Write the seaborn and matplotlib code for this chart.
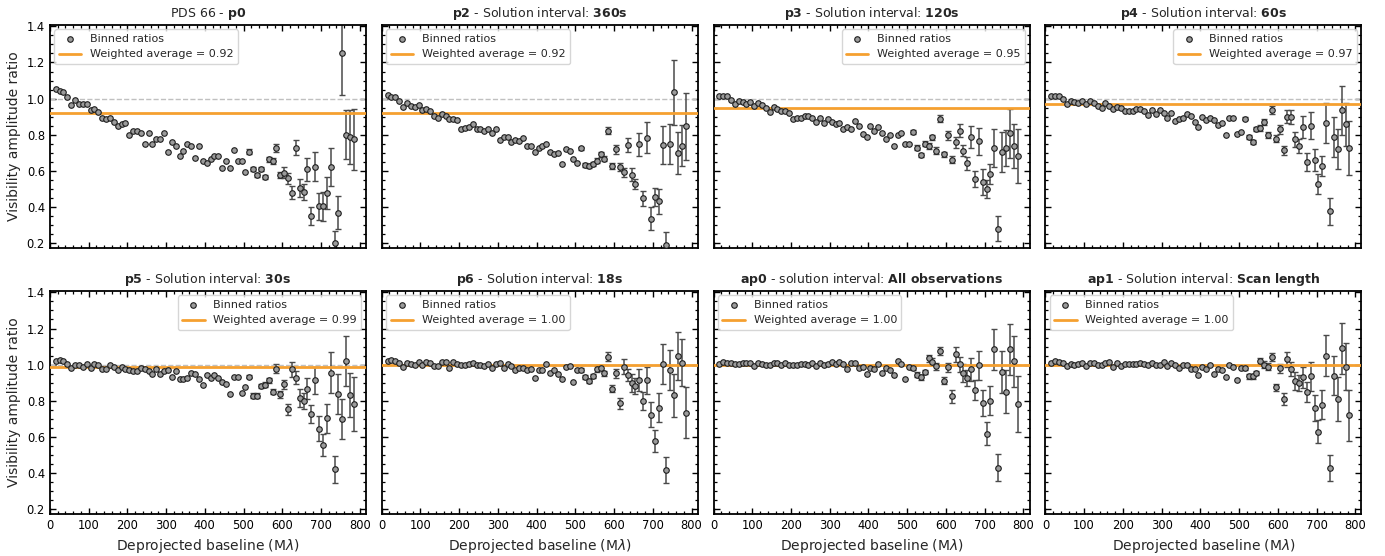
import numpy as np
import matplotlib
matplotlib.use("Agg")
import matplotlib.pyplot as plt
from matplotlib.ticker import MultipleLocator
import seaborn as sns

# ---------------- data ----------------
baseline = [15, 25, 35, 45, 55, 65, 75, 85, 95, 105,
            115, 125, 135, 145, 155, 165, 175, 185, 195, 205,
            215, 225, 235, 245, 255, 265, 275, 285, 295, 305,
            315, 325, 335, 345, 355, 365, 375, 385, 395, 405,
            415, 425, 435, 445, 455, 465, 475, 485, 495, 505,
            515, 525, 535, 545, 555, 565, 575, 585, 595, 605,
            615, 625, 635, 645, 655, 665, 675, 685, 695, 705,
            715, 725, 735, 745, 755, 765, 775, 785]

ratio_p0 = [1.052, 1.043, 1.035, 1.007, 0.967, 0.995, 0.969, 0.969, 0.972, 0.935,
            0.945, 0.924, 0.895, 0.885, 0.895, 0.869, 0.848, 0.861, 0.865, 0.800,
            0.819, 0.824, 0.808, 0.749, 0.813, 0.747, 0.778, 0.778, 0.813, 0.708,
            0.758, 0.736, 0.686, 0.713, 0.747, 0.736, 0.675, 0.740, 0.656, 0.643,
            0.667, 0.686, 0.686, 0.616, 0.658, 0.617, 0.715, 0.658, 0.658, 0.593,
            0.708, 0.612, 0.579, 0.612, 0.569, 0.664, 0.656, 0.726, 0.579, 0.590,
            0.560, 0.480, 0.730, 0.505, 0.485, 0.610, 0.350, 0.625, 0.405, 0.405,
            0.480, 0.625, 0.200, 0.370, 1.250, 0.800, 0.790, 0.775]
ratio_p2 = [1.018, 1.011, 1.009, 0.989, 0.954, 0.978, 0.961, 0.954, 0.963, 0.935,
            0.945, 0.932, 0.906, 0.893, 0.915, 0.902, 0.889, 0.887, 0.884, 0.835,
            0.839, 0.841, 0.860, 0.834, 0.830, 0.824, 0.835, 0.810, 0.830, 0.773,
            0.787, 0.791, 0.758, 0.773, 0.765, 0.782, 0.741, 0.741, 0.706, 0.730,
            0.738, 0.747, 0.708, 0.695, 0.701, 0.641, 0.723, 0.713, 0.665, 0.647,
            0.725, 0.632, 0.628, 0.640, 0.658, 0.693, 0.669, 0.823, 0.627, 0.721,
            0.623, 0.593, 0.743, 0.580, 0.529, 0.747, 0.449, 0.784, 0.338, 0.455,
            0.433, 0.743, 0.192, 0.750, 1.035, 0.699, 0.741, 0.848]
ratio_p3 = [1.017, 1.017, 1.013, 0.994, 0.969, 0.987, 0.980, 0.970, 0.983, 0.961,
            0.978, 0.963, 0.946, 0.928, 0.956, 0.941, 0.930, 0.933, 0.922, 0.887,
            0.893, 0.895, 0.906, 0.904, 0.891, 0.872, 0.893, 0.863, 0.887, 0.872,
            0.858, 0.865, 0.834, 0.841, 0.830, 0.876, 0.850, 0.806, 0.786, 0.848,
            0.821, 0.845, 0.810, 0.780, 0.802, 0.741, 0.800, 0.811, 0.750, 0.750,
            0.815, 0.730, 0.689, 0.752, 0.739, 0.786, 0.713, 0.889, 0.693, 0.797,
            0.662, 0.758, 0.824, 0.712, 0.643, 0.789, 0.555, 0.765, 0.540, 0.499,
            0.582, 0.730, 0.281, 0.706, 0.726, 0.810, 0.738, 0.684]
ratio_p4 = [1.013, 1.015, 1.013, 0.998, 0.972, 0.987, 0.983, 0.976, 0.989, 0.971,
            0.985, 0.976, 0.958, 0.948, 0.974, 0.958, 0.945, 0.956, 0.947, 0.930,
            0.932, 0.930, 0.945, 0.943, 0.934, 0.908, 0.936, 0.913, 0.936, 0.923,
            0.893, 0.921, 0.875, 0.890, 0.893, 0.913, 0.904, 0.873, 0.845, 0.901,
            0.880, 0.895, 0.882, 0.853, 0.866, 0.797, 0.891, 0.891, 0.807, 0.818,
            0.890, 0.790, 0.761, 0.831, 0.838, 0.871, 0.800, 0.935, 0.780, 0.830,
            0.715, 0.900, 0.900, 0.775, 0.740, 0.845, 0.650, 0.850, 0.660, 0.530,
            0.626, 0.865, 0.378, 0.790, 0.720, 0.937, 0.858, 0.729]
ratio_p5 = [1.018, 1.024, 1.020, 1.002, 0.980, 0.996, 0.996, 0.987, 1.002, 0.983,
            1.002, 0.998, 0.978, 0.974, 0.996, 0.987, 0.969, 0.987, 0.974, 0.971,
            0.963, 0.963, 0.980, 0.974, 0.967, 0.947, 0.974, 0.947, 0.965, 0.971,
            0.930, 0.963, 0.919, 0.923, 0.925, 0.954, 0.947, 0.919, 0.886, 0.941,
            0.925, 0.943, 0.925, 0.906, 0.892, 0.836, 0.930, 0.930, 0.842, 0.879,
            0.934, 0.829, 0.829, 0.881, 0.890, 0.914, 0.851, 0.978, 0.836, 0.892,
            0.754, 0.974, 0.928, 0.816, 0.800, 0.868, 0.730, 0.915, 0.647, 0.557,
            0.704, 0.956, 0.421, 0.840, 0.699, 1.020, 0.833, 0.781]
ratio_p6 = [1.020, 1.028, 1.022, 1.011, 0.989, 1.007, 1.004, 1.000, 1.015, 0.996,
            1.013, 1.011, 0.993, 0.994, 1.017, 1.013, 0.982, 1.015, 1.004, 1.000,
            0.996, 1.004, 1.009, 0.996, 0.998, 0.991, 1.002, 0.983, 1.002, 1.011,
            0.983, 1.002, 0.991, 0.971, 0.983, 0.982, 0.971, 0.976, 0.926, 0.972,
            0.972, 1.002, 0.952, 0.969, 0.947, 0.923, 0.987, 0.994, 0.906, 0.972,
            0.972, 0.932, 0.910, 0.938, 0.976, 0.983, 0.952, 1.044, 0.868, 0.954,
            0.787, 0.989, 0.943, 0.901, 0.881, 0.915, 0.801, 0.915, 0.724, 0.577,
            0.761, 1.006, 0.419, 0.969, 0.831, 1.048, 1.011, 0.735]
ratio_ap0 = [1.006, 1.017, 1.009, 1.009, 1.004, 1.002, 1.007, 1.009, 1.009, 0.994,
             1.011, 1.004, 0.998, 0.998, 1.009, 1.011, 1.000, 1.009, 0.996, 0.998,
             0.998, 1.006, 1.004, 1.000, 1.007, 0.991, 1.007, 0.996, 1.004, 1.015,
             1.004, 1.013, 1.002, 0.978, 1.009, 1.011, 0.980, 0.985, 0.947, 0.982,
             0.974, 1.002, 0.956, 0.983, 0.969, 0.941, 1.018, 1.006, 0.919, 0.987,
             0.980, 0.945, 0.930, 0.960, 1.035, 1.017, 0.991, 1.075, 0.912, 0.987,
             0.825, 1.057, 1.002, 0.954, 0.926, 0.974, 0.860, 0.996, 0.789, 0.619,
             0.801, 1.085, 0.432, 0.960, 0.851, 1.085, 1.018, 0.781]
ratio_ap1 = [1.011, 1.022, 1.015, 1.011, 0.994, 1.002, 1.000, 1.002, 1.009, 0.993,
             1.007, 1.007, 0.996, 0.996, 1.007, 1.013, 0.987, 1.009, 0.994, 1.002,
             1.002, 1.002, 1.006, 1.011, 1.002, 1.000, 1.007, 0.998, 0.996, 1.015,
             0.993, 1.009, 0.996, 0.983, 0.996, 0.996, 0.974, 0.978, 0.945, 0.985,
             0.975, 1.000, 0.950, 0.975, 0.970, 0.930, 1.000, 0.990, 0.915, 0.980,
             0.980, 0.935, 0.935, 0.955, 1.020, 1.000, 0.990, 1.043, 0.875, 0.980,
             0.810, 1.030, 0.975, 0.910, 0.900, 0.930, 0.850, 0.935, 0.760, 0.630,
             0.780, 1.050, 0.430, 0.940, 0.810, 1.090, 0.990, 0.720]

# uncertainties of the outer bins (baselines 515 ... 785 Mlambda)
err_p0 = [0.012, 0.010, 0.012, 0.012, 0.012, 0.015, 0.015, 0.022, 0.018, 0.030,
          0.030, 0.035, 0.040, 0.050, 0.045, 0.065, 0.050, 0.080, 0.075, 0.080,
          0.090, 0.105, 0.070, 0.090, 0.230, 0.135, 0.150, 0.170]
err_p2 = [0.010, 0.010, 0.010, 0.012, 0.012, 0.015, 0.015, 0.020, 0.015, 0.025,
          0.020, 0.025, 0.040, 0.035, 0.030, 0.065, 0.040, 0.085, 0.065, 0.050,
          0.070, 0.105, 0.070, 0.110, 0.180, 0.115, 0.115, 0.185]
err_p3 = [0.012, 0.012, 0.012, 0.012, 0.015, 0.015, 0.018, 0.020, 0.015, 0.025,
          0.020, 0.030, 0.035, 0.030, 0.035, 0.060, 0.045, 0.075, 0.070, 0.050,
          0.055, 0.105, 0.070, 0.110, 0.100, 0.135, 0.120, 0.150]
err_p4 = [0.010, 0.012, 0.012, 0.012, 0.015, 0.015, 0.015, 0.022, 0.018, 0.025,
          0.025, 0.035, 0.040, 0.040, 0.040, 0.060, 0.050, 0.075, 0.060, 0.055,
          0.055, 0.110, 0.075, 0.110, 0.110, 0.135, 0.120, 0.150]
err_p5 = [0.010, 0.012, 0.012, 0.012, 0.015, 0.015, 0.015, 0.025, 0.018, 0.025,
          0.030, 0.040, 0.035, 0.050, 0.045, 0.060, 0.050, 0.075, 0.070, 0.060,
          0.080, 0.115, 0.072, 0.110, 0.110, 0.140, 0.120, 0.150]
err_p6 = [0.010, 0.012, 0.012, 0.012, 0.015, 0.015, 0.015, 0.025, 0.020, 0.025,
          0.030, 0.040, 0.035, 0.050, 0.045, 0.060, 0.050, 0.075, 0.070, 0.060,
          0.080, 0.110, 0.070, 0.110, 0.120, 0.135, 0.130, 0.140]
err_ap0 = [0.012, 0.012, 0.012, 0.012, 0.018, 0.018, 0.018, 0.022, 0.020, 0.025,
           0.035, 0.040, 0.040, 0.050, 0.045, 0.065, 0.055, 0.080, 0.070, 0.065,
           0.080, 0.115, 0.072, 0.115, 0.120, 0.140, 0.140, 0.155]
err_ap1 = [0.012, 0.012, 0.012, 0.012, 0.018, 0.018, 0.018, 0.022, 0.020, 0.025,
           0.035, 0.040, 0.040, 0.050, 0.045, 0.060, 0.055, 0.080, 0.070, 0.065,
           0.080, 0.115, 0.070, 0.110, 0.120, 0.140, 0.130, 0.140]

weighted_avg = [0.92, 0.92, 0.95, 0.97, 0.99, 1.00, 1.00, 1.00]

titles = [r"PDS 66 - $\bf{p0}$",
          r"$\bf{p2}$ - Solution interval: $\bf{360s}$",
          r"$\bf{p3}$ - Solution interval: $\bf{120s}$",
          r"$\bf{p4}$ - Solution interval: $\bf{60s}$",
          r"$\bf{p5}$ - Solution interval: $\bf{30s}$",
          r"$\bf{p6}$ - Solution interval: $\bf{18s}$",
          r"$\bf{ap0}$ - solution interval: $\bf{All\ observations}$",
          r"$\bf{ap1}$ - Solution interval: $\bf{Scan\ length}$"]
legend_locs = ["upper left", "upper left", "upper right", "upper right",
               "upper right", "upper left", "upper left", "upper left"]

ratios = [ratio_p0, ratio_p2, ratio_p3, ratio_p4, ratio_p5, ratio_p6, ratio_ap0, ratio_ap1]
errors = [err_p0, err_p2, err_p3, err_p4, err_p5, err_p6, err_ap0, err_ap1]

# ---------------- style ----------------
sns.set_theme(style="ticks")
plt.rcParams.update({
    "font.family": ["DejaVu Sans"],
    "axes.linewidth": 1.3,
    "axes.edgecolor": "black",
    "xtick.color": "black",
    "ytick.color": "black",
    "xtick.labelsize": 8.3,
    "ytick.labelsize": 8.3,
    "legend.frameon": True,
    "legend.framealpha": 0.8,
    "legend.edgecolor": "0.8",
    "legend.fancybox": True,
    "mathtext.fontset": "dejavusans",
})

ORANGE = "#f5a030"
POINT_FC = "#9b9b9b"
POINT_EC = "#1e1e1e"
ERR_C = "#4a4a4a"

fig, axes = plt.subplots(2, 4, figsize=(13.85, 5.56), dpi=100, sharex=True, sharey=True)
fig.subplots_adjust(left=0.036, right=0.983, top=0.955, bottom=0.0755,
                    wspace=0.05, hspace=0.193)

n_outer = len(err_p0)
for i, ax in enumerate(axes.flat):
    y = ratios[i]
    ax.axhline(1.0, color="#c0c0c0", ls="--", lw=1.0, zorder=1)
    ax.errorbar(baseline[-n_outer:], y[-n_outer:], yerr=errors[i], fmt="none",
                ecolor=ERR_C, elinewidth=1.1, capsize=2.0, capthick=1.0, zorder=2)
    sns.scatterplot(x=baseline, y=y, ax=ax, color=POINT_FC, edgecolor=POINT_EC,
                    linewidth=0.8, s=16, label="Binned ratios", zorder=4)
    ax.axhline(weighted_avg[i], color=ORANGE, lw=2.0, zorder=3,
               label=f"Weighted average = {weighted_avg[i]:.2f}")
    ax.set_title(titles[i], fontsize=9)
    ax.set_xlim(0, 816)
    ax.set_ylim(0.175, 1.407)
    ax.xaxis.set_major_locator(MultipleLocator(100))
    ax.xaxis.set_minor_locator(MultipleLocator(20))
    ax.yaxis.set_major_locator(MultipleLocator(0.2))
    ax.yaxis.set_minor_locator(MultipleLocator(0.05))
    ax.tick_params(which="both", direction="in", top=True, right=True)
    ax.tick_params(which="major", length=4, width=1.0)
    ax.tick_params(which="minor", length=2, width=0.9)
    ax.legend(loc=legend_locs[i], fontsize=8, borderaxespad=0.4)
    ax.set_xlabel("")
    ax.set_ylabel("")
    if i % 4 == 0:
        ax.set_ylabel("Visibility amplitude ratio", fontsize=10)
    if i >= 4:
        ax.set_xlabel(r"Deprojected baseline (M$\lambda$)", fontsize=10)

fig.savefig("out.png", dpi=100)
